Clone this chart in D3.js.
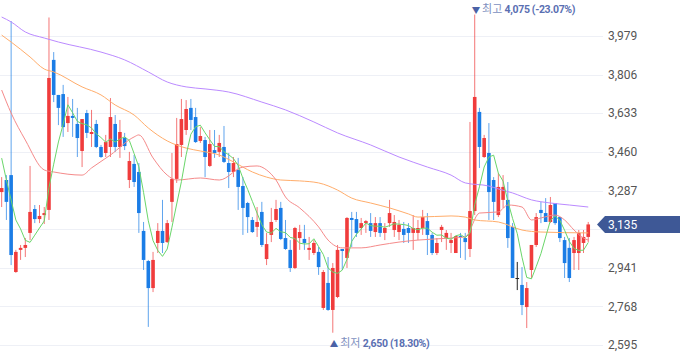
<!DOCTYPE html>
<html><head><meta charset="utf-8">
<script src="https://cdn.jsdelivr.net/npm/d3@7"></script>
<style>body{margin:0;background:#fff;} svg{display:block;}</style>
</head><body><svg id="c" width="680" height="358"></svg>
<script>
const opens = [3280,3334,3356,2922,3021,3030,3097,3204,3159,3177,
3200,3872,3715,3719,3589,3621,3585,3464,3634,3540,
3585,3482,3455,3482,3585,3482,3522,3334,3406,3370,
3106,2971,2850,3052,3106,3056,3236,3339,3491,3558,
3657,3616,3509,3513,3397,3468,3460,3482,3410,3370,
3379,3307,3231,3155,3124,3191,2980,3088,3155,3209,
3074,3021,2940,3074,3070,3021,3007,3012,2761,2873,
2752,2810,3025,2985,3164,3159,3119,3141,3141,3101,
3141,3097,3141,3110,3101,3115,3119,3097,3097,3119,
3150,3088,3007,3110,3074,3052,3007,3083,3074,3025,
3195,3639,3437,3455,3334,3177,3245,3245,3124,2895,
2864,2765,2931,3043,3200,3186,3146,3231,3168,3065,
3030,3007,3007,3052,3079];
const highs = [3347,3356,4046,3021,3043,3074,3397,3222,3222,3213,
4062,3907,3715,3760,3706,3697,3657,3607,3648,3648,
3603,3491,3536,3701,3625,3603,3545,3460,3446,3410,
3146,2976,3012,3141,3245,3155,3455,3612,3697,3692,
3697,3657,3571,3527,3558,3558,3536,3576,3455,3437,
3433,3347,3236,3168,3213,3236,3097,3209,3245,3236,
3155,3065,3124,3133,3133,3079,3065,3034,2931,2989,
2962,3043,3025,3168,3191,3191,3164,3155,3186,3168,
3168,3141,3245,3177,3155,3146,3141,3177,3155,3200,
3186,3097,3074,3133,3110,3097,3083,3097,3097,3594,
4075,3657,3536,3589,3347,3365,3356,3325,3141,2967,
2944,2877,3043,3186,3236,3253,3258,3231,3168,3079,
3074,3079,3110,3110,3146];
const lows = [3213,3155,2953,2918,2976,2989,3065,3141,3141,3137,
3155,3683,3580,3527,3549,3527,3437,3392,3522,3482,
3477,3433,3437,3437,3460,3433,3468,3298,3303,3097,
2931,2676,2832,3007,3007,3052,3146,3321,3437,3536,
3558,3500,3500,3347,3392,3433,3437,3410,3298,3347,
3200,3088,3097,3097,3079,3034,2953,3056,3146,3065,
3021,2922,2935,3021,3021,2976,2998,2909,2752,2748,
2650,2805,2931,2940,3034,3079,3088,3097,3079,3079,
3079,3065,3124,3079,3065,3052,3052,3021,3065,3088,
2998,2998,2998,3056,3021,3007,3007,2985,2976,2989,
3177,3388,3433,3155,3155,3168,3209,3030,2895,2841,
2729,2671,2895,3034,3141,3146,3141,3133,3056,2895,
2877,2931,2931,3007,3056];
const closes = [3298,3236,2998,3012,3030,3043,3191,3159,3173,3186,
3791,3715,3657,3571,3621,3612,3522,3607,3545,3549,
3482,3437,3504,3616,3482,3549,3486,3419,3325,3186,
2976,2850,2976,3106,3052,3141,3339,3495,3607,3652,
3603,3504,3531,3437,3495,3455,3500,3415,3370,3410,
3303,3209,3168,3101,3146,3043,3047,3146,3204,3070,
3025,2940,3119,3101,3052,3030,3052,2944,2922,2752,
2940,3021,3016,3164,3155,3097,3141,3150,3106,3141,
3097,3119,3186,3146,3133,3088,3097,3119,3119,3168,
3088,3007,3052,3124,3097,3065,3083,3079,3056,3195,
3706,3482,3522,3280,3236,3303,3303,3074,2895,2895,
2774,2850,3043,3168,3186,3146,3222,3141,3074,2962,
2895,3065,3097,3079,3135];
// closes of the 4 sessions before the visible window (for the 5-day average)
const priorCloses = [3726,3448,3457,3231];
// [session index, value]
const ma20 = [[0,3737],[2,3634],[5,3513],[9,3379],[11,3370],[17,3356],[19,3388],[23,3446],[28,3527],[29,3536],[32,3433],[35,3356],[37,3334],[42,3343],[46,3334],[51,3392],[54,3397],[56,3379],[58,3334],[60,3258],[63,3209],[67,3124],[69,3065],[72,3030],[76,3030],[80,3043],[84,3056],[88,3065],[95,3074],[98,3079],[101,3186],[105,3191],[107,3222],[110,3213],[112,3155],[114,3164],[117,3177],[119,3155],[121,3110],[123,3074],[124,3065]];
const ma60 = [[0,3983],[2,3952],[6,3885],[9,3831],[11,3818],[17,3751],[21,3715],[24,3670],[28,3625],[31,3567],[35,3509],[39,3477],[42,3464],[46,3446],[49,3415],[53,3370],[56,3347],[59,3334],[63,3330],[67,3321],[71,3289],[74,3253],[78,3231],[82,3209],[86,3182],[88,3168],[95,3173],[98,3168],[100,3155],[105,3146],[110,3110],[114,3101],[124,3097]];
const ma120 = [[0,4064],[2,4042],[5,3997],[9,3970],[12,3952],[21,3907],[26,3872],[31,3818],[35,3773],[39,3751],[43,3742],[48,3728],[55,3683],[60,3648],[66,3594],[71,3545],[78,3491],[84,3437],[90,3392],[95,3356],[98,3321],[103,3307],[105,3294],[108,3276],[112,3245],[116,3231],[120,3222],[124,3213]];
const yTicks = [2595,2768,2941,3114,3287,3460,3633,3806,3979];
const lastPrice = 3135;
const highIdx = 100, highVal = 4075, highPct = "(-23.07%)";
const lowIdx = 70, lowVal = 2650, lowPct = "(18.30%)";

const svg = d3.select("#c");
const n = closes.length;
const x = d3.scaleBand().domain(d3.range(n)).range([-0.7, 590.6]).padding(0);
const cx = i => x(i) + x.bandwidth() / 2;
const y = d3.scaleLinear().domain([2595, 3979]).range([345, 36]);
const fmt = d3.format(",");
const FONT = "Roboto, 'Noto Sans', sans-serif";
const KFONT = "'Noto Sans CJK KR', 'Noto Sans', sans-serif";

// grid
svg.append("g").selectAll("line").data(yTicks).join("line")
  .attr("x1", 0).attr("x2", 603)
  .attr("y1", d => Math.round(y(d)) + 0.5).attr("y2", d => Math.round(y(d)) + 0.5)
  .attr("stroke", "#eef0f6").attr("stroke-width", 1);

const RED = "#f03c3c", BLUE = "#1b7de6", BLACK = "#222";
const col = i => closes[i] > opens[i] ? RED : (closes[i] < opens[i] ? BLUE : BLACK);

const cg = svg.append("g");
const idx = d3.range(n);
cg.selectAll("line.w").data(idx).join("line").attr("class", "w")
  .attr("x1", cx).attr("x2", cx)
  .attr("y1", i => y(highs[i])).attr("y2", i => y(lows[i]))
  .attr("stroke", col).attr("stroke-opacity", i => col(i) === BLACK ? 1 : 0.7).attr("stroke-width", 1);
cg.selectAll("rect").data(idx).join("rect")
  .attr("x", i => cx(i) - 1.8).attr("width", 3.6)
  .attr("y", i => y(Math.max(opens[i], closes[i])))
  .attr("height", i => Math.max(1, Math.abs(y(opens[i]) - y(closes[i]))))
  .attr("fill", col);

// moving averages
const all = priorCloses.concat(closes);
const ma5 = idx.map(i => [i, d3.mean(all.slice(i, i + 5))]);
const line = d3.line().x(d => cx(d[0])).y(d => y(d[1]));
const smooth = d3.line().x(d => cx(d[0])).y(d => y(d[1])).curve(d3.curveMonotoneX);
const lg = svg.append("g").attr("fill", "none").attr("stroke-width", 1);
lg.append("path").attr("d", smooth(ma120)).attr("stroke", "#bb8aff");
lg.append("path").attr("d", smooth(ma60)).attr("stroke", "#ffad6b");
lg.append("path").attr("d", smooth(ma20)).attr("stroke", "#f58a8a");
lg.append("path").attr("d", line(ma5)).attr("stroke", "#6ad66a");

// y-axis labels
const lastY = y(lastPrice);
svg.append("g").selectAll("text").data(yTicks.filter(d => Math.abs(y(d) - lastY) > 12)).join("text")
  .attr("x", 608).attr("y", d => y(d)).attr("dy", "0.35em")
  .attr("font-family", FONT).attr("font-size", 12).attr("fill", "#555")
  .text(d => fmt(d));

// current price tag
svg.append("path")
  .attr("d", `M597,${lastY} L605,${lastY - 8.5} L680,${lastY - 8.5} L680,${lastY + 8.5} L605,${lastY + 8.5} Z`)
  .attr("fill", "#3e5896");
svg.append("text").attr("x", 608).attr("y", lastY).attr("dy", "0.35em")
  .attr("font-family", FONT).attr("font-size", 12).attr("fill", "#fff").text(fmt(lastPrice));

// high / low markers
function marker(i, val, pct, arrow, label, ty) {
  const t = svg.append("text").attr("x", cx(i) - 3).attr("y", ty).attr("dy", "0.35em")
    .attr("font-size", 11.5).attr("font-family", KFONT);
  t.append("tspan").attr("fill", "#4a62a6").attr("font-size", 8.5).text(arrow + " ");
  t.append("tspan").attr("fill", "#8090c0").attr("font-size", 11).text(label);
  t.append("tspan").attr("fill", "#5a6fb2").attr("font-weight", "bold").attr("font-family", FONT)
    .attr("font-size", 10.5).attr("letter-spacing", -0.35)
    .text(" " + fmt(val) + " " + pct);
}
marker(highIdx, highVal, highPct, "▼", "최고", 9);
marker(lowIdx, lowVal, lowPct, "▲", "최저", 343);
</script></body></html>
